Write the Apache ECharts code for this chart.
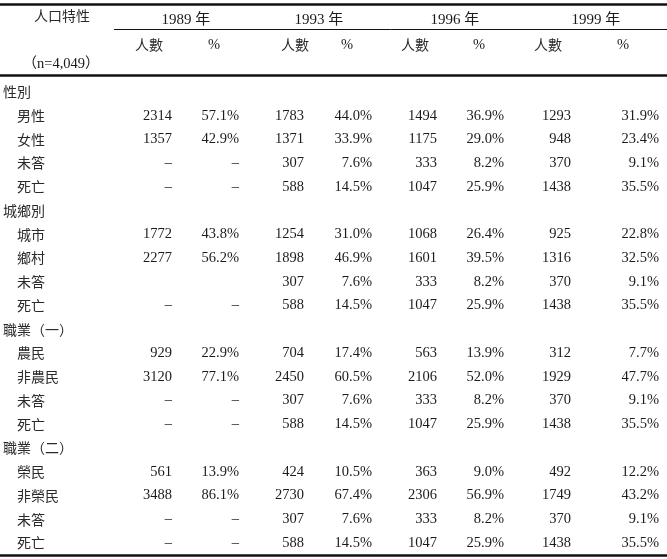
<!DOCTYPE html>
<html><head><meta charset="utf-8">
<script src="https://cdn.jsdelivr.net/npm/echarts@6/dist/echarts.min.js"></script>
<style>html,body{margin:0;padding:0;background:#fff}#c{width:667px;height:559px}</style>
</head><body><div id="c"></div>
<script>
// ---- data ----
const years = ['1989 年', '1993 年', '1996 年', '1999 年'];
const subHeads = ['人數', '%'];
const headTitle = '人口特性';
const sampleNote = '（n=4,049）';
const rowLabels = ['性別','男性','女性','未答','死亡','城鄉別','城市','鄉村','未答','死亡','職業（一）','農民','非農民','未答','死亡','職業（二）','榮民','非榮民','未答','死亡'];
const groupRows = [0, 5, 10, 15];
// '-' = dash, '' = blank, null = group heading (no cell)
const n1989 = [null,2314,1357,'-','-',null,1772,2277,'','-',null,929,3120,'-','-',null,561,3488,'-','-'];
const p1989 = [null,57.1,42.9,'-','-',null,43.8,56.2,'','-',null,22.9,77.1,'-','-',null,13.9,86.1,'-','-'];
const n1993 = [null,1783,1371,307,588,null,1254,1898,307,588,null,704,2450,307,588,null,424,2730,307,588];
const p1993 = [null,44.0,33.9,7.6,14.5,null,31.0,46.9,7.6,14.5,null,17.4,60.5,7.6,14.5,null,10.5,67.4,7.6,14.5];
const n1996 = [null,1494,1175,333,1047,null,1068,1601,333,1047,null,563,2106,333,1047,null,363,2306,333,1047];
const p1996 = [null,36.9,29.0,8.2,25.9,null,26.4,39.5,8.2,25.9,null,13.9,52.0,8.2,25.9,null,9.0,56.9,8.2,25.9];
const n1999 = [null,1293,948,370,1438,null,925,1316,370,1438,null,312,1929,370,1438,null,492,1749,370,1438];
const p1999 = [null,31.9,23.4,9.1,35.5,null,22.8,32.5,9.1,35.5,null,7.7,47.7,9.1,35.5,null,12.2,43.2,9.1,35.5];

// ---- layout (pixel anchors) ----
const colRight = [172, 239, 304, 372, 437, 504, 571, 659];
const yearCenter = [186, 319, 455, 596];
const subCenter = [149, 214, 295, 347, 415, 479, 548, 623];
const groupX = 3, itemX = 17;

const NUMFONT = '14.5px "Liberation Serif", "Noto Sans CJK TC", serif';
const CJKFONT = '14px "Noto Sans CJK TC", sans-serif';
const TXT = '#1b1b1b', CJK = '#2a2a2a';

const cols = [n1989, p1989, n1993, p1993, n1996, p1996, n1999, p1999];
const cells = [];
rowLabels.forEach((lab, r) => {
  const isGroup = groupRows.includes(r);
  cells.push([isGroup ? groupX : itemX, r, lab, 'left', 'cjk']);
  cols.forEach((arr, ci) => {
    const v = arr[r];
    if (v === null || v === '') return;
    let t;
    if (v === '-') t = '–';
    else if (ci % 2 === 1) t = v.toFixed(1) + '%';
    else t = String(v);
    cells.push([colRight[ci], r, t, 'right', 'num']);
  });
});

const chart = echarts.init(document.getElementById('c'), null, {renderer: 'canvas'});
const rowTop = 80.1, rowBottom = 4.2;

const graphics = [];
const line = (x1, y, x2, w) => graphics.push({type: 'line', shape: {x1, y1: y, x2, y2: y}, style: {stroke: '#111', lineWidth: w}, silent: true});
line(0, 4.5, 667, 2.5);
line(114, 29.5, 667, 1);
line(0, 75.5, 667, 2.5);
line(0, 555.5, 667, 2.5);
const txt = (x, y, text, font, fill) => graphics.push({type: 'text', x, y, style: {text, font, fill, align: 'center', verticalAlign: 'middle', textAlign: 'center', textVerticalAlign: 'middle'}, silent: true});
txt(62, 16, headTitle, CJKFONT, CJK);
years.forEach((y, i) => txt(yearCenter[i], 20, y, '15px "Liberation Serif", "Noto Sans CJK TC", serif', TXT));
subCenter.forEach((x, i) => txt(x, 45, subHeads[i % 2], i % 2 ? NUMFONT : CJKFONT, i % 2 ? TXT : CJK));
txt(61, 64, sampleNote, NUMFONT, TXT);

chart.setOption({
  animation: false,
  backgroundColor: '#fff',
  grid: {left: 0, right: 0, top: rowTop, bottom: rowBottom},
  xAxis: {type: 'value', min: 0, max: 667, show: false},
  yAxis: {type: 'category', data: rowLabels.map((_, i) => i), inverse: true, show: false},
  graphic: graphics,
  series: [{
    type: 'custom',
    coordinateSystem: 'cartesian2d',
    encode: {x: 0, y: 1},
    data: cells,
    renderItem: (params, api) => {
      const d = cells[params.dataIndex];
      const pt = api.coord([d[0], d[1]]);
      const isCjk = d[4] === 'cjk';
      return {
        type: 'text', x: pt[0], y: pt[1],
        style: {text: d[2], font: isCjk ? CJKFONT : NUMFONT, fill: isCjk ? CJK : TXT,
          align: d[3], verticalAlign: 'middle', textAlign: d[3], textVerticalAlign: 'middle'}
      };
    }
  }]
});
</script></body></html>
